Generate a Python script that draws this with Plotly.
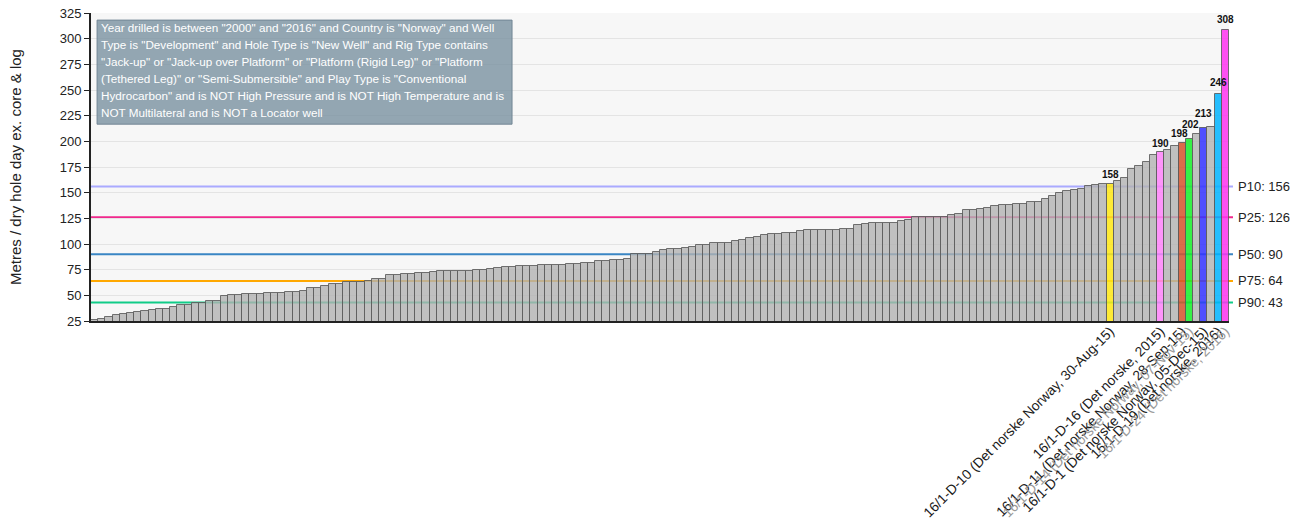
import plotly.graph_objects as go

# ---- data ----
values = [
    26, 27.3, 28.6, 30.5, 31.5, 32.5, 33.8, 34.7, 35.7, 36.7,
    36.7, 38.3, 40.3, 40.3, 42.5, 42.5, 44.5, 44.5, 49.3, 50.3,
    50.3, 51.3, 51.3, 51.3, 52.3, 52.3, 52.3, 53.6, 53.6, 54.2,
    57.5, 57.5, 59.4, 60.7, 60.7, 62.7, 62.7, 62.7, 64, 65.6,
    65.6, 69.5, 69.5, 70.5, 70.5, 71.5, 71.5, 72.5, 73.4, 73.4,
    73.4, 73.4, 73.4, 74.7, 74.7, 75.5, 76.9, 77.6, 77.6, 78.6,
    78.6, 78.6, 79.5, 79.5, 79.5, 79.5, 80.5, 80.5, 81.2, 81.2,
    83.4, 83.4, 84.4, 84.4, 85.7, 90.6, 90.6, 90.6, 92.5, 94.2,
    95.1, 95.1, 96.1, 96.7, 98.6, 98.6, 100.9, 100.9, 100.9, 102.8,
    104.1, 105.8, 106.8, 109.2, 110.1, 110.1, 111.1, 111.1, 112.4, 113.4,
    113.4, 113.4, 114.1, 114.1, 115.1, 115.1, 118.8, 119.8, 120.8, 120.8,
    120.8, 120.8, 122.7, 123.8, 126.5, 126.5, 126.5, 126.5, 126.5, 128.5,
    129.5, 132.8, 132.8, 133.8, 134.8, 136.7, 137.8, 137.8, 138.7, 138.7,
    140.8, 140.8, 144.3, 146.6, 149.8, 151.8, 152.9, 154, 156.3, 157.5,
    158, 158, 161.4, 164, 172.8, 176, 180, 186.4, 190, 191.6,
    195.8, 198, 202, 207, 213, 213.5, 246, 308,
]

highlight_idx = [141, 148, 151, 152, 154, 156, 157]
highlight_colors = ["rgba(255,232,20,0.85)", "rgba(255,130,250,0.85)", "rgba(214,84,44,0.85)",
                    "rgba(20,240,40,0.85)", "rgba(50,50,255,0.85)", "rgba(0,180,255,0.85)",
                    "rgba(255,50,240,0.85)"]
highlight_labels = [
    "16/1-D-10 (Det norske Norway, 30-Aug-15)",
    "16/1-D-16 (Det norske, 2015)",
    "16/1-D-11 (Det norske Norway, 28-Sep-15)",
    "16/1-D-14 (Det norske Norway, 07-Nov-15)",
    "16/1-D-1 (Det norske Norway, 05-Dec-15)",
    "16/1-D-19 (Det norske, 2016)",
    "16/1-D-24 (Det norske, 2016)",
]
highlight_dim = [False, False, False, True, False, False, True]
# vertical offset (px) of each value label above its bar, and horizontal nudge
label_yshift = [2, 1, 2, 7, 7, 4, 3]
label_xshift = [0, 0, -3, 1, 0, 0, 0]

pct_names = ["P10", "P25", "P50", "P75", "P90"]
pct_values = [156, 126, 90, 64, 43]
pct_colors = ["#aaaaff", "#f0288c", "#3a86c4", "#ffa800", "#10cc88"]

filter_lines = [
    'Year drilled is between "2000" and "2016" and Country is "Norway" and Well',
    'Type is "Development" and Hole Type is "New Well" and Rig Type contains',
    '"Jack-up" or "Jack-up over Platform" or "Platform (Rigid Leg)" or "Platform',
    '(Tethered Leg)" or "Semi-Submersible" and Play Type is "Conventional',
    'Hydrocarbon" and is NOT High Pressure and is NOT High Temperature and is',
    'NOT Multilateral and is NOT a Locator well',
]
y_title = "Metres / dry hole day ex. core & log"

# ---- build ----
FONT = "Liberation Sans, Arial, sans-serif"
n = len(values)
xs = list(range(n))
colors = ["rgba(178,178,178,0.8)"] * n
for i, c in zip(highlight_idx, highlight_colors):
    colors[i] = c

ticktext = []
for lab, dim in zip(highlight_labels, highlight_dim):
    if dim:
        ticktext.append('<span style="color:#9a9a9a">%s</span>' % lab)
    else:
        ticktext.append(lab)

fig = go.Figure()
fig.add_trace(go.Bar(
    x=xs, y=values,
    marker=dict(color=colors, line=dict(color="rgba(90,90,90,0.85)", width=1)),
    hoverinfo="skip",
))

shapes = []
annotations = []
for name, v, c in zip(pct_names, pct_values, pct_colors):
    shapes.append(dict(type="line", xref="paper", yref="y", x0=0, x1=1.0035, y0=v, y1=v,
                       line=dict(color=c, width=2), layer="between"))
    annotations.append(dict(xref="paper", yref="y", x=1.0065, y=v, xanchor="left", yanchor="middle",
                            text="%s: %d" % (name, v), showarrow=False,
                            font=dict(size=13, color="#222", family=FONT)))

for i, ys, xsh in zip(highlight_idx, label_yshift, label_xshift):
    annotations.append(dict(xref="x", yref="y", x=xs[i], y=values[i], yanchor="bottom", xanchor="center",
                            text="<b>%d</b>" % round(values[i]), showarrow=False, yshift=ys, xshift=xsh,
                            font=dict(size=10, color="#111", family=FONT)))

# filter description box
shapes.append(dict(type="rect", xref="paper", yref="paper", x0=0.0053, x1=0.3700, y0=0.639, y1=0.977,
                   fillcolor="rgba(125,148,162,0.82)", line=dict(color="rgba(110,130,145,0.9)", width=1),
                   layer="above"))
for k, line in enumerate(filter_lines):
    annotations.append(dict(xref="paper", yref="paper", x=0.0068, y=0.9545 - k * 0.0553,
                            xanchor="left", yanchor="middle", text=line, showarrow=False,
                            font=dict(size=11.7, color="white", family=FONT)))

annotations.append(dict(xref="paper", yref="paper", x=-0.0668, y=0.5, text=y_title, textangle=-90,
                        showarrow=False, xanchor="center", yanchor="middle",
                        font=dict(size=15, color="#222", family=FONT)))

fig.update_layout(
    width=1296, height=530,
    margin=dict(l=91, r=67, t=13, b=209),
    paper_bgcolor="white", plot_bgcolor="#f7f7f7",
    bargap=0, showlegend=False,
    shapes=shapes, annotations=annotations,
    font=dict(family=FONT, color="#222"),
)
fig.update_xaxes(range=[-0.5, n - 0.5], tickmode="array", tickvals=highlight_idx, ticktext=ticktext,
                 tickangle=-45, tickfont=dict(size=13.8, color="#1a1a1a", family=FONT),
                 ticklabelstandoff=-5,
                 showgrid=False, showline=True, linecolor="#222", linewidth=2, ticks="",
                 zeroline=False, automargin=False)
fig.update_yaxes(range=[25, 325], tick0=25, dtick=25, showgrid=True, gridcolor="#e4e4e4",
                 showline=True, linecolor="#222", linewidth=2, ticks="outside", ticklen=5,
                 tickcolor="#222", tickfont=dict(size=13, color="#222", family=FONT),
                 zeroline=False, automargin=False)

# remove the default page margin so the 1296x530 figure fills the window exactly
fig.write_html("out.html", config={"displayModeBar": False},
               post_script="document.body.style.margin='0';document.body.style.overflow='hidden';")
